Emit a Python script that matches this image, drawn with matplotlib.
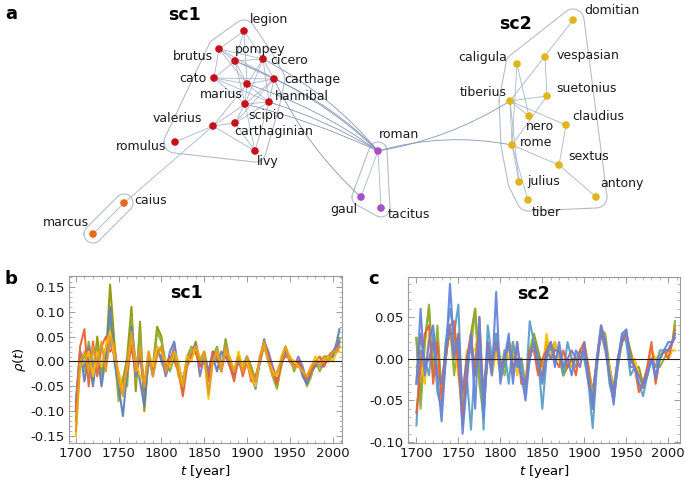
import numpy as np
import matplotlib
matplotlib.use("Agg")
import matplotlib.pyplot as plt
from matplotlib.path import Path
from matplotlib.patches import PathPatch
from matplotlib.ticker import MultipleLocator, FormatStrFormatter

plt.rcParams['font.family'] = 'DejaVu Sans'
plt.rcParams['axes.unicode_minus'] = False
plt.rcParams['mathtext.fontset'] = 'dejavusans'

# ---------------- network (panel a), layout in picture pixels ----------------
nodes = {
    'legion': (244, 31), 'brutus': (219, 49), 'pompey': (235, 61), 'cicero': (263, 59),
    'cato': (214, 78), 'carthage': (274, 79), 'marius': (247, 84), 'hannibal': (269, 102),
    'scipio': (245, 104), 'valerius': (213, 126), 'carthaginian': (235, 123),
    'romulus': (175, 142), 'livy': (255, 151),
    'caius': (124, 203), 'marcus': (93, 234),
    'roman': (378, 151), 'gaul': (361, 197), 'tacitus': (381, 208),
    'domitian': (573, 20), 'caligula': (517, 64), 'vespasian': (545, 57),
    'tiberius': (510, 101), 'suetonius': (547, 96), 'nero': (529, 116),
    'claudius': (566, 125), 'rome': (512, 145), 'sextus': (559, 165),
    'julius': (519, 182), 'antony': (596, 197), 'tiber': (528, 200),
}
# label offset (dx, dy) from node and alignment
label_pos = {
    'legion': (6, -12, 'left'), 'brutus': (-6, 8, 'right'), 'pompey': (0, -12, 'left'),
    'cicero': (7, 2, 'left'), 'cato': (-7, 0, 'right'), 'carthage': (10, 0, 'left'),
    'marius': (-4, 10, 'right'), 'hannibal': (6, -5, 'left'), 'scipio': (3, 11, 'left'),
    'valerius': (-11, -7, 'right'), 'carthaginian': (-1, 9, 'left'),
    'romulus': (-9, 5, 'right'), 'livy': (2, 11, 'left'),
    'caius': (10, -2, 'left'), 'marcus': (-4, -12, 'right'),
    'roman': (1, -16, 'left'), 'gaul': (-4, 13, 'right'), 'tacitus': (7, 6, 'left'),
    'domitian': (11, -9, 'left'), 'caligula': (-10, -7, 'right'),
    'vespasian': (12, -1, 'left'), 'tiberius': (-3, -9, 'right'),
    'suetonius': (9, -8, 'left'), 'nero': (-3, 10, 'left'), 'claudius': (6, -9, 'left'),
    'rome': (8, -3, 'left'), 'sextus': (9, -8, 'left'), 'julius': (8, -1, 'left'),
    'antony': (4, -13, 'left'), 'tiber': (4, 12, 'left'),
}
groups = {
    'sc1': ['legion', 'brutus', 'pompey', 'cicero', 'cato', 'carthage', 'marius', 'hannibal',
            'scipio', 'valerius', 'carthaginian', 'romulus', 'livy'],
    'first': ['caius', 'marcus'],
    'roman': ['roman', 'gaul', 'tacitus'],
    'sc2': ['domitian', 'caligula', 'vespasian', 'tiberius', 'suetonius', 'nero', 'claudius',
            'rome', 'sextus', 'julius', 'antony', 'tiber'],
}
group_colors = {'sc1': '#C8101A', 'first': '#E8691E', 'roman': '#A64FC6', 'sc2': '#E2B41C'}

edges = [
    ('legion', 'pompey'), ('legion', 'cicero'), ('legion', 'brutus'), ('legion', 'marius'),
    ('brutus', 'pompey'), ('brutus', 'cicero'), ('brutus', 'cato'), ('brutus', 'marius'),
    ('brutus', 'carthage'), ('pompey', 'cicero'), ('pompey', 'cato'), ('pompey', 'marius'),
    ('pompey', 'carthage'), ('pompey', 'scipio'), ('cicero', 'carthage'), ('cicero', 'marius'),
    ('cicero', 'hannibal'), ('cicero', 'scipio'), ('cato', 'marius'), ('cato', 'carthage'),
    ('cato', 'scipio'), ('cato', 'hannibal'), ('carthage', 'marius'), ('carthage', 'hannibal'),
    ('carthage', 'scipio'), ('carthage', 'carthaginian'), ('marius', 'scipio'),
    ('marius', 'hannibal'), ('marius', 'valerius'), ('hannibal', 'scipio'),
    ('hannibal', 'carthaginian'), ('hannibal', 'livy'), ('scipio', 'carthaginian'),
    ('scipio', 'valerius'), ('scipio', 'livy'), ('valerius', 'carthaginian'),
    ('valerius', 'romulus'), ('valerius', 'livy'), ('carthaginian', 'livy'),
    ('valerius', 'caius'), ('caius', 'marcus'),
    ('roman', 'gaul'), ('roman', 'tacitus'),
    ('domitian', 'tiberius'), ('vespasian', 'suetonius'), ('caligula', 'nero'),
    ('caligula', 'rome'), ('tiberius', 'suetonius'), ('tiberius', 'nero'),
    ('tiberius', 'claudius'), ('tiberius', 'rome'), ('tiberius', 'julius'),
    ('suetonius', 'rome'), ('claudius', 'sextus'), ('rome', 'sextus'), ('rome', 'julius'),
    ('rome', 'tiber'), ('sextus', 'antony'),
]
# curved edges: (from, to, bend)
bundled_edges = [
    ('marius', 'roman', 0.08), ('cicero', 'roman', 0.1), ('carthage', 'roman', 0.1),
    ('hannibal', 'roman', 0.06), ('scipio', 'roman', 0.05), ('pompey', 'roman', 0.1),
    ('carthage', 'gaul', -0.1), ('roman', 'tiberius', -0.1), ('roman', 'rome', 0.12),
]

# ---------------- time series (panels b, c) ----------------
years = list(range(1700, 2006, 5)) + [2008]

sc1_series = [
    [-0.12, 0.0, 0.01, 0.03, -0.04, 0.05, -0.02, 0.0, 0.155, 0.04, -0.07, -0.04, 0.01, 0.11,
     -0.06, 0.08, -0.10, 0.01, -0.01, 0.07, 0.05, -0.02, 0.0, 0.01, -0.02, -0.06, 0.01, 0.01,
     0.04, 0.0, 0.02, -0.02, 0.0, 0.02, -0.02, 0.045, 0.0, -0.02, 0.01, -0.01, 0.01, -0.01,
     -0.04, 0.0, 0.035, 0.0, -0.02, -0.05, 0.0, 0.03, 0.0, -0.01, 0.0, -0.02, -0.04, -0.02, 0.0,
     0.0, 0.01, 0.01, 0.01, 0.02, 0.045],
    [-0.10, 0.01, -0.02, 0.04, -0.01, 0.03, -0.03, 0.02, 0.08, 0.02, -0.08, -0.03, -0.05, 0.09,
     -0.04, 0.06, -0.08, 0.0, -0.02, 0.06, 0.04, 0.0, -0.02, 0.01, -0.01, -0.04, 0.01, 0.03, 0.02,
     -0.01, 0.01, -0.03, 0.01, 0.03, -0.01, 0.04, -0.01, -0.03, 0.0, -0.01, 0.01, -0.02, -0.03,
     0.0, 0.03, 0.0, -0.03, -0.055, -0.01, 0.02, 0.01, -0.02, 0.0, -0.02, -0.05, -0.03, 0.0,
     -0.02, 0.0, 0.0, 0.01, 0.02, 0.04],
    [-0.08, 0.02, -0.04, 0.01, -0.05, 0.02, -0.05, 0.01, 0.11, 0.0, -0.05, -0.11, -0.02, 0.07,
     0.0, -0.04, -0.09, 0.01, -0.02, 0.03, 0.0, -0.02, 0.02, 0.04, -0.02, -0.06, 0.0, 0.01, 0.03,
     -0.01, 0.0, -0.03, 0.01, -0.02, 0.02, 0.01, -0.01, -0.03, 0.0, -0.02, 0.0, -0.03, -0.055,
     0.0, 0.045, 0.01, -0.02, -0.04, 0.0, 0.02, 0.01, -0.01, 0.0, -0.03, -0.045, -0.02, -0.01,
     0.0, 0.0, 0.01, 0.01, 0.04, 0.065],
    [-0.09, 0.02, -0.01, 0.03, -0.02, 0.01, 0.0, -0.01, 0.04, 0.01, -0.03, -0.06, 0.0, 0.04,
     -0.03, 0.01, -0.06, 0.01, -0.03, 0.02, 0.01, -0.03, 0.0, 0.03, -0.01, -0.04, 0.0, 0.02,
     0.035, -0.03, 0.01, -0.02, 0.02, 0.0, -0.01, 0.03, 0.0, -0.03, 0.01, -0.02, 0.0, -0.03,
     -0.04, 0.0, 0.04, 0.02, -0.01, -0.035, 0.0, 0.02, 0.0, -0.01, 0.01, -0.01, -0.04, -0.02,
     0.0, -0.01, -0.01, 0.01, 0.02, 0.03, 0.04],
    [-0.10, 0.03, 0.065, -0.05, 0.04, -0.03, 0.03, 0.05, 0.02, 0.03, -0.03, -0.05, -0.02, 0.03,
     -0.02, 0.02, -0.05, 0.01, -0.01, 0.02, 0.03, -0.01, 0.01, 0.0, -0.02, -0.07, -0.01, 0.01,
     0.02, -0.01, 0.0, -0.04, 0.02, 0.01, -0.02, 0.02, -0.01, -0.04, 0.01, -0.03, 0.0, -0.04,
     -0.03, 0.0, 0.04, 0.01, -0.02, -0.045, 0.0, 0.01, 0.01, -0.01, 0.0, -0.02, -0.035, -0.02,
     0.0, 0.01, -0.01, 0.01, 0.02, 0.02, 0.03],
    [-0.15, -0.01, 0.0, 0.02, -0.03, 0.02, -0.01, 0.03, 0.06, 0.01, -0.02, -0.06, -0.01, 0.05,
     0.0, -0.03, -0.04, 0.02, -0.01, 0.03, 0.02, 0.0, -0.01, 0.02, 0.0, -0.05, 0.01, 0.0, 0.03,
     0.01, 0.01, -0.075, 0.0, 0.02, -0.01, 0.02, 0.01, -0.02, 0.02, -0.01, 0.0, -0.03, -0.05,
     0.01, 0.035, 0.0, -0.02, -0.03, 0.01, 0.03, 0.01, 0.0, -0.01, -0.02, -0.03, -0.01, 0.01,
     0.0, 0.0, 0.01, 0.0, 0.02, 0.02],
    [-0.14, 0.0, 0.02, -0.02, 0.03, -0.01, 0.04, -0.02, 0.05, 0.03, -0.04, -0.07, 0.0, 0.06,
     -0.02, 0.03, -0.05, 0.02, -0.03, 0.01, 0.03, -0.02, 0.0, 0.02, -0.03, -0.05, 0.0, 0.02, 0.03,
     0.0, 0.02, -0.065, 0.0, 0.02, -0.02, 0.03, 0.0, -0.02, 0.01, -0.02, 0.01, -0.02, -0.04,
     0.01, 0.04, 0.0, -0.03, -0.02, 0.0, 0.03, 0.0, -0.01, -0.01, -0.02, -0.03, -0.01, 0.0,
     -0.01, 0.01, 0.0, 0.02, 0.02, 0.03],
]
sc2_series = [
    [0.025, -0.05, 0.02, 0.06, -0.01, 0.02, -0.04, 0.01, 0.03, 0.03, 0.0, -0.06, -0.02, 0.03,
     0.06, -0.02, -0.06, 0.01, 0.0, 0.02, -0.01, -0.01, 0.02, 0.0, 0.0, 0.0, -0.04, 0.01, 0.03,
     0.01, -0.01, 0.02, 0.0, 0.015, 0.01, -0.02, -0.01, 0.0, 0.0, 0.0, 0.01, -0.01, -0.04, 0.0,
     0.03, 0.02, -0.01, -0.035, 0.0, 0.02, 0.03, 0.01, -0.01, -0.01, -0.03, -0.02, 0.0, -0.01,
     0.0, 0.01, 0.01, 0.02, 0.04],
    [0.025, -0.06, 0.02, 0.065, -0.02, 0.04, -0.04, 0.0, 0.04, -0.02, 0.03, -0.05, 0.0, 0.01,
     0.06, -0.03, -0.07, 0.02, -0.01, 0.03, 0.0, -0.02, 0.02, 0.01, -0.01, 0.0, -0.03, 0.01,
     0.025, 0.0, -0.02, 0.02, 0.01, 0.02, 0.0, -0.02, 0.0, -0.01, 0.0, 0.01, 0.0, -0.02, -0.05,
     0.0, 0.035, 0.03, -0.01, -0.04, -0.01, 0.02, 0.03, 0.0, -0.01, -0.02, -0.035, -0.02, 0.0,
     0.0, -0.01, 0.0, 0.01, 0.02, 0.045],
    [-0.01, 0.0, -0.03, 0.03, 0.02, -0.01, -0.04, 0.02, 0.03, 0.02, -0.02, -0.06, 0.01, 0.01,
     0.01, 0.04, -0.05, 0.01, -0.02, 0.01, -0.02, 0.01, 0.0, 0.02, -0.02, 0.0, -0.03, 0.0, 0.02,
     0.0, -0.02, 0.03, 0.0, 0.02, 0.0, -0.01, 0.0, -0.01, 0.0, 0.0, 0.01, -0.01, -0.045, -0.01,
     0.035, 0.015, -0.01, -0.045, 0.0, 0.02, 0.03, 0.0, 0.0, -0.02, -0.03, -0.01, 0.01, 0.0,
     0.005, 0.01, 0.0, 0.01, 0.01],
    [-0.08, 0.01, 0.0, -0.02, 0.03, -0.04, -0.06, 0.02, 0.06, 0.03, 0.065, -0.07, -0.02, -0.085,
     0.0, 0.03, -0.085, 0.04, 0.0, 0.03, -0.02, 0.01, -0.03, 0.02, -0.01, 0.0, -0.04, 0.045,
     0.02, 0.0, -0.06, 0.0, 0.02, 0.0, 0.01, -0.02, 0.02, 0.0, -0.01, 0.01, 0.0, -0.03, -0.083,
     -0.01, 0.035, 0.02, -0.03, -0.05, -0.01, 0.03, 0.02, -0.02, -0.01, -0.03, -0.045, -0.02,
     0.0, -0.01, 0.01, 0.01, 0.01, 0.02, 0.03],
    [-0.065, -0.01, 0.03, 0.04, -0.03, 0.02, -0.05, 0.0, 0.04, 0.045, -0.01, -0.08, 0.0, 0.03,
     -0.02, 0.05, -0.05, 0.0, 0.0, 0.02, -0.01, 0.0, 0.02, -0.02, 0.02, -0.03, -0.03, 0.01, 0.01,
     -0.02, 0.0, 0.01, 0.02, 0.0, -0.01, 0.01, -0.01, 0.0, -0.02, 0.01, 0.02, -0.01, -0.06, 0.0,
     0.04, 0.02, -0.02, -0.05, 0.0, 0.02, 0.03, 0.0, -0.01, -0.04, -0.03, -0.01, 0.02, -0.03,
     0.0, 0.01, 0.0, 0.02, 0.035],
    [-0.03, 0.03, -0.01, 0.0, 0.02, -0.02, -0.03, 0.01, 0.04, 0.0, 0.03, -0.04, 0.0, 0.02,
     -0.02, 0.01, -0.04, 0.02, -0.01, 0.02, -0.01, 0.0, 0.02, -0.01, 0.0, -0.02, -0.03, 0.0,
     0.02, -0.01, -0.02, 0.01, 0.0, 0.01, 0.01, -0.01, 0.0, 0.01, 0.0, -0.01, 0.02, -0.03,
     -0.045, 0.0, 0.03, 0.01, -0.02, -0.04, 0.0, 0.02, 0.035, 0.0, -0.01, -0.02, -0.03, -0.015,
     0.0, -0.025, 0.0, 0.01, 0.01, 0.02, 0.025],
    [-0.03, 0.06, -0.02, 0.02, 0.04, -0.02, -0.075, 0.0, 0.09, 0.01, 0.02, -0.09, -0.03, 0.03,
     -0.06, 0.05, -0.07, 0.01, -0.02, 0.08, -0.03, 0.0, 0.03, -0.03, 0.02, -0.02, -0.05, 0.0,
     0.02, 0.0, -0.03, 0.0, 0.02, -0.01, 0.02, -0.01, 0.0, -0.02, 0.01, 0.0, 0.01, -0.02, -0.06,
     0.0, 0.04, 0.02, -0.02, -0.055, 0.0, 0.03, 0.035, -0.01, -0.01, -0.03, -0.035, -0.02, 0.0,
     -0.02, 0.0, 0.01, 0.02, 0.02, 0.03],
]
line_colors = ['#929600', '#8FB032', '#5E81B5', '#8778B3', '#EB6235', '#FFBF00', '#E19C24']
sc2_colors = ['#929600', '#8FB032', '#FFBF00', '#5D9EC7', '#EB6235', '#8778B3', '#6685D9']

fig = plt.figure(figsize=(6.85, 4.87), dpi=100)

# ---- panel a ----
H = 250
ax = fig.add_axes([0, 1 - H / 487, 1, H / 487])
ax.set_xlim(0, 685)
ax.set_ylim(H, 0)
ax.axis('off')


def hull(pts):
    pts = sorted(set(map(tuple, pts)))
    def cross(o, a, b):
        return (a[0] - o[0]) * (b[1] - o[1]) - (a[1] - o[1]) * (b[0] - o[0])
    lower, upper = [], []
    for p in pts:
        while len(lower) >= 2 and cross(lower[-2], lower[-1], p) <= 0:
            lower.pop()
        lower.append(p)
    for p in reversed(pts):
        while len(upper) >= 2 and cross(upper[-2], upper[-1], p) <= 0:
            upper.pop()
        upper.append(p)
    return lower[:-1] + upper[:-1]


ang = np.linspace(0, 2 * np.pi, 48, endpoint=False)
for g, members in groups.items():
    pad = 11 if g in ('sc1', 'sc2') else 9
    pts = []
    for m in members:
        x, y = nodes[m]
        for a in ang:
            pts.append((round(x + pad * np.cos(a), 3), round(y + pad * np.sin(a), 3)))
    h = np.array(hull(pts))
    h = np.vstack([h, h[:1]])
    ax.plot(h[:, 0], h[:, 1], color='#B4BCCB', lw=0.8, zorder=1)

for a_, b_ in edges:
    (x1, y1), (x2, y2) = nodes[a_], nodes[b_]
    ax.plot([x1, x2], [y1, y2], color='#9AAAC4', lw=0.6, alpha=0.85, zorder=2)

for a_, b_, bend in bundled_edges:
    (x1, y1), (x2, y2) = nodes[a_], nodes[b_]
    mx, my = (x1 + x2) / 2, (y1 + y2) / 2
    dx, dy = x2 - x1, y2 - y1
    cx, cy = mx + bend * dy, my - bend * dx
    path = Path([(x1, y1), (cx, cy), (x2, y2)], [Path.MOVETO, Path.CURVE3, Path.CURVE3])
    ax.add_patch(PathPatch(path, fc='none', ec='#8496B8', lw=0.6, zorder=2))

for g, members in groups.items():
    xs = [nodes[m][0] for m in members]
    ys = [nodes[m][1] for m in members]
    ax.scatter(xs, ys, s=30, color=group_colors[g], edgecolors='none', zorder=3)
    for m in members:
        dx, dy, ha = label_pos[m]
        ax.text(nodes[m][0] + dx, nodes[m][1] + dy, m, ha=ha, va='center', fontsize=9,
                color='#1a1a1a', zorder=4)

ax.text(5, 14, 'a', fontsize=13, fontweight='bold', ha='left', va='center')
ax.text(185, 15, 'sc1', fontsize=12.5, fontweight='bold', ha='center', va='center')
ax.text(516, 24, 'sc2', fontsize=12.5, fontweight='bold', ha='center', va='center')


# ---- panels b and c ----
def style(axp, xlim):
    for s in axp.spines.values():
        s.set_color('#9a9a9a')
        s.set_linewidth(0.8)
    axp.tick_params(which='both', direction='in', top=True, right=True, color='#9a9a9a',
                    labelsize=9.5, labelcolor='#1a1a1a', pad=3)
    axp.tick_params(which='major', length=4, width=0.7)
    axp.tick_params(which='minor', length=2, width=0.5)
    axp.xaxis.set_major_locator(MultipleLocator(50))
    axp.xaxis.set_minor_locator(MultipleLocator(10))
    axp.yaxis.set_major_formatter(FormatStrFormatter('%.2f'))
    axp.set_xlim(*xlim)
    axp.axhline(0, color='#222222', lw=0.8, zorder=5)
    axp.set_xlabel(r'$t$ [year]', fontsize=9.5, labelpad=2)


axb = fig.add_axes([69 / 685, 1 - 443 / 487, 273 / 685, 167 / 487])
for ser, c in zip(sc1_series, line_colors):
    axb.plot(years, ser, color=c, lw=1.5, alpha=0.95, solid_joinstyle='round')
style(axb, (1692, 2011))
axb.set_ylim(-0.164, 0.172)
axb.yaxis.set_major_locator(MultipleLocator(0.05))
axb.yaxis.set_minor_locator(MultipleLocator(0.01))
axb.set_ylabel(r'$\rho(t)$', fontsize=9.5, labelpad=2)
axb.text(0.43, 0.9, 'sc1', transform=axb.transAxes, fontsize=12.5, fontweight='bold',
         ha='center', va='center')
fig.text(5 / 685, 1 - 279 / 487, 'b', fontsize=13, fontweight='bold', ha='left', va='center')

axc = fig.add_axes([408 / 685, 1 - 443 / 487, 272 / 685, 166 / 487])
for ser, c in zip(sc2_series, sc2_colors):
    axc.plot(years, ser, color=c, lw=1.5, alpha=0.95, solid_joinstyle='round')
style(axc, (1690, 2014))
axc.set_ylim(-0.101, 0.098)
axc.yaxis.set_major_locator(MultipleLocator(0.05))
axc.yaxis.set_minor_locator(MultipleLocator(0.01))
axc.text(0.46, 0.9, 'sc2', transform=axc.transAxes, fontsize=12.5, fontweight='bold',
         ha='center', va='center')
fig.text(368 / 685, 1 - 279 / 487, 'c', fontsize=13, fontweight='bold', ha='left', va='center')

fig.savefig('out.png', dpi=100)
